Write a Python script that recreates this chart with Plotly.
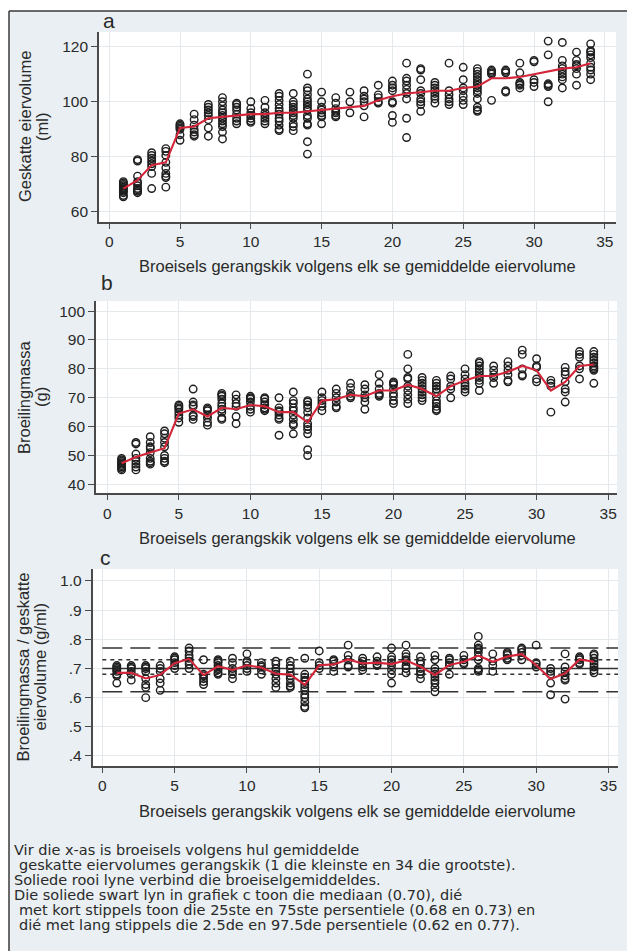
import plotly.graph_objects as go

# ---------------- data ----------------
CLUTCH_RANK = list(range(1, 35))
X_TICKS = [0, 5, 10, 15, 20, 25, 30, 35]

# panel a: estimated egg volume (ml) per egg, grouped by clutch rank
EGG_VOLUME = [
    [71, 70.5, 70, 69.5, 69, 68.5, 68, 67.5, 67, 66, 65.5],
    [79, 78.5, 73, 71, 70.5, 69.5, 68.5, 68, 67.5, 67],
    [81.5, 80.5, 79.5, 78.5, 77.5, 76.5, 74, 68.5],
    [83, 82, 80.5, 78, 76, 74, 73, 72.5, 69],
    [92, 91.5, 91, 90.5, 90, 88, 86],
    [95.5, 93.5, 91.5, 90, 89, 88, 87.5],
    [99, 98, 97, 96, 95, 93.5, 90.5, 87.5],
    [101.5, 100, 98.5, 97, 96, 95, 94, 93, 92, 91, 89, 86.5],
    [99.5, 99, 98, 97, 95.5, 94, 93, 92],
    [100, 97.5, 96, 95, 94, 93, 92.5],
    [100.5, 98, 96, 95, 94, 93, 92],
    [103, 102, 100.5, 99, 97.5, 96.5, 95.5, 94, 93, 91.5, 90, 89.5],
    [103, 100, 99, 98, 97, 96, 95, 94, 92, 91, 89.5],
    [110, 105, 104, 102.5, 101, 100, 99, 98, 97, 95, 94, 92, 91.5, 85.5, 81],
    [103.5, 100, 98, 97, 96, 95, 94.5, 92],
    [101.5, 99.5, 97.5, 96.5, 96, 95, 94.5],
    [103.5, 100, 96],
    [104, 102, 101, 100, 98.5, 94.5],
    [106, 102.5, 101.5, 100, 99.5],
    [107.5, 106, 105, 104, 100, 99.5, 95, 92.5],
    [114, 108.5, 107.5, 106, 104.5, 103, 101, 94, 87],
    [112, 111.5, 108, 104, 103, 101, 100, 99, 96.5],
    [107, 106, 105, 104, 103, 102, 101, 99.5],
    [114, 104, 102.5, 101, 100, 99],
    [112.5, 108, 105, 104, 102, 100.5, 99],
    [112, 111, 110, 109, 108, 107, 106, 105, 104, 103, 101, 98, 97, 96.5],
    [111.5, 111, 110.5, 110, 100.5],
    [111.5, 111, 110.5, 104, 103.5],
    [114, 110.5, 107, 106.5, 106, 105],
    [115, 114.5, 108, 107, 105.5],
    [122, 117, 106.5, 106, 105.5, 100],
    [121.5, 115, 113, 112, 111, 110, 109, 108, 105],
    [118, 115, 113.5, 113, 112, 110, 106],
    [121, 118.5, 118, 117, 116, 114, 112.5, 111.5, 110, 108],
]
EGG_VOLUME_MEAN = [68.5, 71.5, 77, 78, 90.5, 91, 94, 94.5, 95, 95.5, 95.5, 96, 96,
                   96.5, 97, 97.5, 98, 98.5, 100.5, 102, 103, 103.5, 104, 104, 105,
                   105.5, 108.5, 108.5, 109, 110, 111, 112, 112.5, 114]

# panel b: hatchling mass (g)
HATCHLING_MASS = [
    [49, 48.5, 48, 47.5, 47, 46.5, 46, 45.5, 45],
    [54.5, 54, 50.5, 49, 48, 47, 46, 45],
    [56.5, 54.5, 53, 52.5, 51, 49, 48, 47.5, 47],
    [58.5, 57.5, 56, 54.5, 53, 50, 49, 48, 47.5],
    [67.5, 67, 66.5, 66, 65, 64, 63, 61.5],
    [73, 68.5, 67.5, 67, 64, 63.5, 62.5],
    [66.5, 66, 65.5, 64, 63, 61.5, 60.5],
    [71.5, 71, 70.5, 69.5, 68, 67, 66, 65, 63, 62.5],
    [71, 69.5, 68, 67, 63.5, 61],
    [70.5, 70, 69.5, 68.5, 67, 66, 65],
    [70, 69.5, 68.5, 67.5, 66.5, 66, 65.5],
    [70, 66.5, 65.5, 65, 64, 63, 62.5, 57],
    [72, 69, 68, 66.5, 65.5, 64, 62.5, 61, 60.5, 57.5],
    [69, 68.5, 67.5, 66.5, 65, 63, 61, 60, 59, 57.5, 52, 50],
    [72, 70, 69, 68, 67, 65.5],
    [73, 71.5, 70, 68.5, 67, 66.5],
    [75, 73.5, 71.5, 70.5, 70],
    [74.5, 73, 71, 70, 68.5, 66],
    [78, 75, 73, 71.5, 71, 70.5],
    [75.5, 75, 74.5, 73, 71.5, 70.5, 69, 68],
    [85, 80, 77, 76.5, 74, 72.5, 71, 69.5, 68],
    [77, 76, 75, 74, 73, 72, 71, 70, 69],
    [76, 75, 74, 73, 72, 70.5, 69, 68, 67, 66, 65.5],
    [77.5, 76.5, 74, 73, 70],
    [80, 78, 76.5, 75, 74, 73, 72],
    [82.5, 82, 81, 80, 79, 78, 77, 76, 75, 72.5],
    [81, 79.5, 78, 77, 75],
    [82.5, 81, 79.5, 78, 76, 75.5],
    [86.5, 85, 80, 78, 77.5],
    [83.5, 81, 80.5, 76.5, 75.5],
    [76, 75, 74, 65],
    [80.5, 79, 78, 75.5, 73, 72, 68.5],
    [86, 85, 84, 81, 80, 76.5],
    [86, 85, 84, 83, 82, 81, 80.5, 80, 79.5, 75],
]
HATCHLING_MASS_MEAN = [47.3, 49.5, 51, 52.5, 64.5, 66, 63.5, 66.5, 66, 67.5, 67, 65,
                       65, 61.5, 69, 69.5, 71, 70.5, 72.5, 72.5, 74.5, 73, 70.5, 74,
                       76, 77.5, 77.5, 79, 81, 79.5, 72.5, 75.5, 81, 81.5]

# panel c: hatchling mass / estimated egg volume (g/ml)
MASS_PER_VOLUME = [
    [0.71, 0.705, 0.70, 0.695, 0.69, 0.68, 0.675, 0.65],
    [0.71, 0.705, 0.70, 0.69, 0.68, 0.66],
    [0.71, 0.705, 0.70, 0.69, 0.665, 0.645, 0.635, 0.60],
    [0.71, 0.70, 0.69, 0.665, 0.65, 0.625],
    [0.74, 0.735, 0.73, 0.72, 0.71, 0.70],
    [0.77, 0.76, 0.745, 0.735, 0.725, 0.715, 0.70],
    [0.73, 0.68, 0.675, 0.665, 0.655, 0.645],
    [0.73, 0.725, 0.72, 0.71, 0.70, 0.695, 0.685, 0.68],
    [0.735, 0.72, 0.70, 0.69, 0.68, 0.665],
    [0.75, 0.725, 0.72, 0.71, 0.70, 0.69],
    [0.72, 0.71, 0.705, 0.695, 0.68],
    [0.725, 0.715, 0.70, 0.69, 0.68, 0.665, 0.65, 0.635],
    [0.725, 0.71, 0.70, 0.685, 0.675, 0.665, 0.65, 0.64, 0.635],
    [0.735, 0.68, 0.67, 0.66, 0.655, 0.645, 0.635, 0.625, 0.61, 0.60, 0.585, 0.57, 0.565],
    [0.76, 0.72, 0.71, 0.70],
    [0.73, 0.725, 0.715, 0.705, 0.69],
    [0.78, 0.745, 0.73, 0.71, 0.705],
    [0.735, 0.725, 0.715, 0.705, 0.695],
    [0.74, 0.725, 0.715, 0.71],
    [0.77, 0.74, 0.73, 0.72, 0.71, 0.695, 0.68, 0.65],
    [0.78, 0.75, 0.74, 0.73, 0.725, 0.71, 0.70, 0.685],
    [0.74, 0.725, 0.715, 0.70, 0.69, 0.68, 0.665],
    [0.745, 0.73, 0.70, 0.69, 0.68, 0.67, 0.66, 0.65, 0.635, 0.62],
    [0.735, 0.73, 0.72, 0.71, 0.68],
    [0.745, 0.73, 0.72, 0.715],
    [0.81, 0.78, 0.77, 0.765, 0.755, 0.74, 0.73, 0.70, 0.695, 0.69],
    [0.75, 0.725, 0.71, 0.69],
    [0.755, 0.75, 0.745, 0.735, 0.73],
    [0.77, 0.765, 0.755, 0.745, 0.73],
    [0.78, 0.72, 0.715, 0.705],
    [0.70, 0.69, 0.68, 0.65, 0.61],
    [0.75, 0.705, 0.69, 0.675, 0.665, 0.66, 0.595],
    [0.74, 0.735, 0.73, 0.72, 0.715],
    [0.75, 0.745, 0.735, 0.725, 0.715, 0.705, 0.695, 0.685],
]
MASS_PER_VOLUME_MEAN = [0.685, 0.685, 0.666, 0.678, 0.718, 0.733, 0.677, 0.708, 0.695,
                        0.711, 0.703, 0.682, 0.679, 0.644, 0.711, 0.714, 0.731, 0.717,
                        0.72, 0.715, 0.728, 0.706, 0.678, 0.712, 0.723, 0.744, 0.723,
                        0.741, 0.749, 0.712, 0.664, 0.683, 0.731, 0.723]

MEDIAN = 0.70
PCT_25_75 = [0.68, 0.73]
PCT_2_5_97_5 = [0.62, 0.77]

A_YTICKS = [60, 80, 100, 120]
B_YTICKS = [40, 50, 60, 70, 80, 90, 100]
C_YTICKS = [0.4, 0.5, 0.6, 0.7, 0.8, 0.9, 1.0]
C_YTICKTEXT = [".4", ".5", ".6", ".7", ".8", ".9", "1.0"]

X_TITLE = "Broeisels gerangskik volgens elk se gemiddelde eiervolume"
CAPTION = [
    "Vir die x-as is broeisels volgens hul gemiddelde",
    " geskatte eiervolumes gerangskik (1 die kleinste en 34 die grootste).",
    "Soliede rooi lyne verbind die broeiselgemiddeldes.",
    "Die soliede swart lyn in grafiek c toon die mediaan (0.70), dié",
    " met kort stippels toon die 25ste en 75ste persentiele (0.68 en 0.73) en",
    " dié met lang stippels die 2.5de en 97.5de persentiele (0.62 en 0.77).",
]

# ---------------- style ----------------
W, H = 627, 951
FONT = "Liberation Sans, Arial, Helvetica, sans-serif"
CAP_FONT = "DejaVu Sans, Liberation Sans, sans-serif"
BG = "#e9eff2"
GRID = "#e4e9ec"
AXIS = "#4a4a4a"
TXT = "#2a2a2a"
RED = "#d3263a"


def fx(p):
    return p / W


def fy(p):
    return 1 - p / H


fig = go.Figure()

panels = [
    dict(vals=EGG_VOLUME, mean=EGG_VOLUME_MEAN, xa="x", ya="y"),
    dict(vals=HATCHLING_MASS, mean=HATCHLING_MASS_MEAN, xa="x2", ya="y2"),
    dict(vals=MASS_PER_VOLUME, mean=MASS_PER_VOLUME_MEAN, xa="x3", ya="y3"),
]
for p in panels:
    xs, ys = [], []
    for rank, vals in zip(CLUTCH_RANK, p["vals"]):
        xs += [rank] * len(vals)
        ys += vals
    fig.add_trace(go.Scatter(
        x=xs, y=ys, mode="markers", xaxis=p["xa"], yaxis=p["ya"],
        marker=dict(symbol="circle-open", size=7.5, color="#1e1e1e",
                    line=dict(width=1.4, color="#1e1e1e")),
        showlegend=False, hoverinfo="skip"))
    fig.add_trace(go.Scatter(
        x=CLUTCH_RANK, y=p["mean"], mode="lines", xaxis=p["xa"], yaxis=p["ya"],
        line=dict(color=RED, width=2.1), showlegend=False, hoverinfo="skip"))


def xaxis(dom, rng, anchor):
    return dict(domain=dom, range=rng, anchor=anchor, tickvals=X_TICKS,
                showgrid=True, gridcolor=GRID, gridwidth=1.3, zeroline=False,
                showline=True, linecolor=AXIS, linewidth=1.6, mirror=False,
                ticks="outside", ticklen=5, tickwidth=1.3, tickcolor=AXIS,
                tickfont=dict(family=FONT, size=15.5, color=TXT))


def yaxis(dom, rng, anchor, tv, tt=None):
    d = dict(domain=dom, range=rng, anchor=anchor, tickvals=tv,
             showgrid=True, gridcolor=GRID, gridwidth=1.3, zeroline=False,
             showline=True, linecolor=AXIS, linewidth=1.6, mirror=False,
             ticks="outside", ticklen=6, tickwidth=1.3, tickcolor=AXIS,
             tickfont=dict(family=FONT, size=15.5, color=TXT))
    if tt:
        d["ticktext"] = tt
    return d


fig.update_layout(
    width=W, height=H, margin=dict(l=0, r=0, t=0, b=0),
    paper_bgcolor=BG, plot_bgcolor="white", showlegend=False,
    xaxis=xaxis([fx(99), fx(616)], [-0.72, 35.79], "y"),
    yaxis=yaxis([fy(222), fy(32)], [56.36, 125.3], "x", A_YTICKS),
    xaxis2=xaxis([fx(96), fx(617)], [-0.79, 35.62], "y2"),
    yaxis2=yaxis([fy(493.3), fy(301)], [36.9, 103.5], "x2", B_YTICKS),
    xaxis3=xaxis([fx(92.5), fx(618)], [-0.68, 35.66], "y3"),
    yaxis3=yaxis([fy(766), fy(569)], [0.3657, 1.041], "x3", C_YTICKS, C_YTICKTEXT),
)

shapes = [
    # white page outside the framed figure
    dict(type="rect", xref="paper", yref="paper", x0=0, x1=1, y0=fy(11), y1=1,
         fillcolor="white", line=dict(width=0), layer="below"),
    dict(type="rect", xref="paper", yref="paper", x0=0, x1=fx(9), y0=0, y1=1,
         fillcolor="white", line=dict(width=0), layer="below"),
    dict(type="line", xref="paper", yref="paper", x0=fx(9), x1=1, y0=fy(11), y1=fy(11),
         line=dict(color="#3a3a3a", width=1.5)),
    dict(type="line", xref="paper", yref="paper", x0=fx(9), x1=fx(9), y0=0, y1=fy(11),
         line=dict(color="#3a3a3a", width=1.5)),
]
ref_lines = [(MEDIAN, "solid")] + [(v, "4px,4px") for v in PCT_25_75] + \
            [(v, "20px,8px") for v in PCT_2_5_97_5]
for val, dash in ref_lines:
    shapes.append(dict(type="line", xref="x3", yref="y3", x0=0, x1=35.66,
                       y0=val, y1=val, layer="between",
                       line=dict(color="#333333", width=1.4, dash=dash)))
fig.update_layout(shapes=shapes)

ann = []


def text(x, y, s, size, xanchor="center", angle=0, family=FONT):
    ann.append(dict(xref="paper", yref="paper", x=fx(x), y=fy(y), text=s,
                    showarrow=False, xanchor=xanchor, yanchor="middle",
                    textangle=angle, font=dict(family=family, size=size, color=TXT)))


# panel letters
text(101, 21, "a", 21, "left")
text(99, 283, "b", 21, "left")
text(98, 557, "c", 21, "left")
# x titles
for yc in (266, 538, 811):
    text(357.5, yc, X_TITLE, 16.5)
# y titles (two lines each)
text(25, 127, "Geskatte eiervolume", 16.5, angle=-90)
text(42, 127, "(ml)", 16.5, angle=-90)
text(24, 397, "Broeilingmassa", 16.5, angle=-90)
text(41, 397, "(g)", 16.5, angle=-90)
text(22, 667.5, "Broeilingmassa / geskatte", 16.5, angle=-90)
text(39, 667.5, "eiervolume (g/ml)", 16.5, angle=-90)
# caption
cap_y = [850, 865, 880, 895, 910, 925]
for line, yc in zip(CAPTION, cap_y):
    indent = line.startswith(" ")
    text(17 if indent else 12, yc, line.strip(), 14.5, "left", family=CAP_FONT)

fig.update_layout(annotations=ann)
fig.write_html("out.html")
